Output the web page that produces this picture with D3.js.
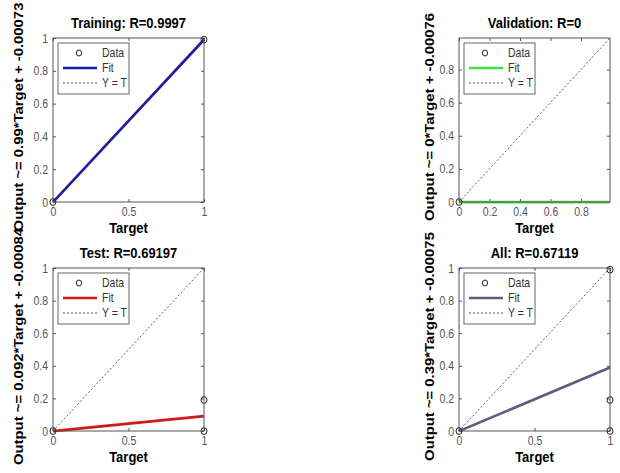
<!DOCTYPE html>
<html>
<head>
<meta charset="utf-8">
<script src="https://cdn.jsdelivr.net/npm/d3@7"></script>
<style>
  body { margin: 0; background: #fff; }
  text { font-family: "Liberation Sans", Arial, sans-serif; }
</style>
</head>
<body>
<div class="chart"></div>
<script>
var w = 620;
var h = 473;
// picture looks stretched vertically, so text gets the same stretch
var k = 1.18;

// chart values
var titles = ["Training: R=0.9997", "Validation: R=0", "Test: R=0.69197", "All: R=0.67119"];
var yLabels = [
  "Output ~= 0.99*Target + -0.00073",
  "Output ~= 0*Target + -0.00076",
  "Output ~= 0.092*Target + -0.00084",
  "Output ~= 0.39*Target + -0.00075"
];
var slopes = [0.99, 0, 0.092, 0.39];
var intercepts = [-0.00073, -0.00076, -0.00084, -0.00075];
var targets = [[0, 1], [0], [0, 1, 1], [0, 1, 1, 1]];
var outputs = [[0, 0.99], [0], [0, 0.19, 0], [0, 0.99, 0.19, 0]];
var axisMax = [1, 0.99, 1, 1];
var xTicks = [[0, 0.5, 1], [0, 0.2, 0.4, 0.6, 0.8], [0, 0.5, 1], [0, 0.5, 1]];
var yTicks = [[0, 0.2, 0.4, 0.6, 0.8, 1], [0, 0.2, 0.4, 0.6, 0.8], [0, 0.2, 0.4, 0.6, 0.8, 1], [0, 0.2, 0.4, 0.6, 0.8, 1]];
var legendLabels = ["Data", "Fit", "Y = T"];
var fitColors = ["#1c1ca8", "#44dd44", "#d01818", "#5c5c7c"];

// layout of the four boxes
var boxes = [
  {x0: 53, x1: 204, y0: 38, y1: 202, lab: 23},
  {x0: 459, x1: 610, y0: 38, y1: 202, lab: 434},
  {x0: 53, x1: 204, y0: 268, y1: 431, lab: 23},
  {x0: 459, x1: 610, y0: 268, y1: 431, lab: 434}
];

var svg = d3.select(".chart")
    .append("svg")
    .attr("width", w)
    .attr("height", h);

function label(g, x, y, str, size, bold, anchor, rot) {
  var t = "translate(" + x + "," + y + ")" + (rot ? " rotate(-90) scale(" + k + ",1)" : " scale(1," + k + ")");
  return g.append("text")
    .attr("transform", t)
    .attr("text-anchor", anchor || "middle")
    .style("font-size", size + "px")
    .style("font-weight", bold ? "bold" : "normal")
    .text(str);
}

boxes.forEach(function (b, i) {
  var g = svg.append("g");
  var x = d3.scaleLinear().domain([0, axisMax[i]]).range([b.x0, b.x1]);
  var y = d3.scaleLinear().domain([0, axisMax[i]]).range([b.y1, b.y0]);

  g.append("rect")
    .attr("x", b.x0).attr("y", b.y0)
    .attr("width", b.x1 - b.x0).attr("height", b.y1 - b.y0)
    .attr("fill", "#fff");

  // ticks point inward on all four sides
  var bottom = g.append("g").attr("transform", "translate(0," + b.y1 + ")")
    .call(d3.axisBottom(x).tickValues(xTicks[i]).tickSize(-3).tickSizeOuter(0).tickPadding(0).tickFormat(d3.format("")));
  var left = g.append("g").attr("transform", "translate(" + b.x0 + ",0)")
    .call(d3.axisLeft(y).tickValues(yTicks[i]).tickSize(-3).tickSizeOuter(0).tickPadding(0).tickFormat(d3.format("")));
  g.append("g").attr("transform", "translate(0," + b.y0 + ")")
    .call(d3.axisTop(x).tickValues(xTicks[i]).tickSize(-3).tickSizeOuter(0).tickFormat(""));
  g.append("g").attr("transform", "translate(" + b.x1 + ",0)")
    .call(d3.axisRight(y).tickValues(yTicks[i]).tickSize(-3).tickSizeOuter(0).tickFormat(""));

  g.selectAll(".domain").remove();
  g.selectAll(".tick line").attr("stroke", "#555");

  bottom.selectAll("text")
    .attr("y", null).attr("dy", null)
    .attr("transform", "translate(0,14) scale(1," + k + ")")
    .attr("fill", "#555")
    .style("font-size", "10.5px");
  left.selectAll("text")
    .attr("x", null).attr("dy", null)
    .attr("transform", "translate(-5,4) scale(1," + k + ")")
    .attr("fill", "#555")
    .style("font-size", "10.5px");

  // fit line, y = t line, data
  var line = d3.line().x(function (d) { return x(d[0]); }).y(function (d) { return y(d[1]); });
  var xs = [0, axisMax[i]];
  g.append("path")
    .attr("d", line(xs.map(function (t) { return [t, slopes[i] * t + intercepts[i]]; })))
    .attr("stroke", fitColors[i])
    .attr("stroke-width", 2.6)
    .attr("fill", "none");
  g.append("path")
    .attr("d", line(xs.map(function (t) { return [t, t]; })))
    .attr("stroke", "#333")
    .attr("stroke-width", 0.8)
    .attr("stroke-dasharray", "2,2")
    .attr("fill", "none");

  g.selectAll("ellipse")
    .data(targets[i].map(function (t, j) { return [t, outputs[i][j]]; }))
    .enter()
    .append("ellipse")
    .attr("cx", function (d) { return x(d[0]); })
    .attr("cy", function (d) { return y(d[1]); })
    .attr("rx", 3).attr("ry", 3.4)
    .attr("fill", "none")
    .attr("stroke", "#222")
    .attr("stroke-width", 1);

  g.append("rect")
    .attr("x", b.x0).attr("y", b.y0)
    .attr("width", b.x1 - b.x0).attr("height", b.y1 - b.y0)
    .attr("fill", "none")
    .attr("stroke", "#555")
    .attr("stroke-width", 1);

  // legend
  var lx = b.x0 + 5, ly = b.y0 + 5;
  g.append("rect")
    .attr("x", lx).attr("y", ly).attr("width", 71).attr("height", 51)
    .attr("fill", "#fff").attr("stroke", "#666").attr("stroke-width", 1);
  legendLabels.forEach(function (name, j) {
    var cy = ly + 10 + j * 15;
    if (j === 0) {
      g.append("ellipse").attr("cx", lx + 21).attr("cy", cy).attr("rx", 2.6).attr("ry", 3)
        .attr("fill", "none").attr("stroke", "#222");
    } else {
      g.append("line").attr("x1", lx + 5).attr("x2", lx + 39).attr("y1", cy).attr("y2", cy)
        .attr("stroke", j === 1 ? fitColors[i] : "#222")
        .attr("stroke-width", j === 1 ? 2.6 : 0.8)
        .attr("stroke-dasharray", j === 1 ? null : "2,2");
    }
    label(g, lx + 44, cy + 4, name, 10.5, false, "start").attr("fill", "#333");
  });

  var cx = (b.x0 + b.x1) / 2;
  label(g, cx, b.y0 - 10, titles[i], 13, true);
  label(g, cx, b.y1 + 31, "Target", 13, true);
  label(g, b.lab, (b.y0 + b.y1) / 2 - 3, yLabels[i], 12.6, true, "middle", true);
});
</script>
</body>
</html>
